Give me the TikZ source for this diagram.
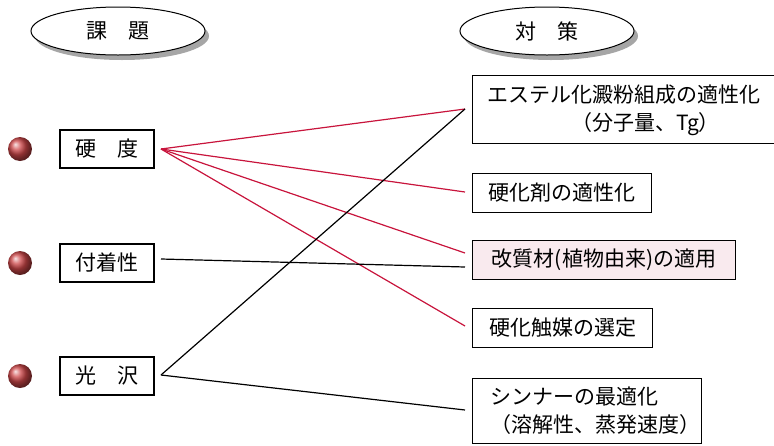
\documentclass[tikz,border=0pt]{standalone}
\usepackage{fontspec}
\setmainfont{Noto Sans CJK JP}
\usetikzlibrary{shapes.geometric,shadows,calc}
\definecolor{linkred}{RGB}{200,20,60}
\definecolor{ballred}{RGB}{205,70,72}
\definecolor{pinkfill}{RGB}{249,234,238}
\tikzset{
  x=1pt,y=-1pt,
  every node/.style={font=\fontsize{21}{28}\selectfont, inner sep=0pt},
  headell/.style={ellipse, draw, line width=1pt, fill=white, minimum width=174pt, minimum height=48pt,
    drop shadow={shadow xshift=4pt, shadow yshift=-5pt, fill=black!35, opacity=1}},
  issuebox/.style={draw, line width=1.1pt, minimum width=94pt, minimum height=38pt},
  measbox/.style={draw, line width=1.1pt, anchor=north west},
  ball/.style={circle, minimum size=24pt, shading=ball, ball color=ballred},
  redlink/.style={draw=linkred, line width=1.2pt},
  blacklink/.style={draw=black, line width=1.2pt}
}
\begin{document}
\begin{tikzpicture}
\useasboundingbox (0,0) rectangle (774,445);
\clip (0,0) rectangle (774,445);
% headings
\node[headell] (hk) at (118,31) {課　題};
\node[headell] (ht) at (547,31) {対　策};
% balls
\node[ball] (b1) at (20,149) {};
\node[ball] (b2) at (20,263) {};
\node[ball] (b3) at (20,376) {};
% issue boxes
\node[issuebox] (i1) at (107,149) {硬　度};
\node[issuebox] (i2) at (107,263) {付着性};
\node[issuebox] (i3) at (107,376) {光　沢};
% measure boxes
\node[measbox, minimum width=306pt, minimum height=68pt] (m1) at (472,75) {};
\node[anchor=north west, align=left] (m1t) at (487,85) {エステル化澱粉組成の適性化\\\hspace{4em}（分子量、Tg）};
\node[measbox, minimum width=179pt, minimum height=39pt] (m2) at (472,173) {硬化剤の適性化};
\node[measbox, minimum width=263pt, minimum height=39pt, fill=pinkfill] (m3) at (472,240) {改質材(植物由来)の適用};
\node[measbox, minimum width=180pt, minimum height=39pt] (m4) at (472,308) {硬化触媒の選定};
\node[measbox, minimum width=229pt, minimum height=65pt] (m5) at (472,378) {};
\node[anchor=north west, align=left] (m5t) at (490,387) {シンナーの最適化\\（溶解性、蒸発速度）};
% connector end points
\coordinate (s1) at (161,149);
\coordinate (s2) at (161,259);
\coordinate (s3) at (161,375);
\coordinate (e1) at (465,109);
\coordinate (e2) at (465,192);
\coordinate (e3r) at (465,253);
\coordinate (e3b) at (465,267);
\coordinate (e4) at (465,326);
\coordinate (e5) at (465,410);
% connectors
\draw[redlink] (s1) -- (e1);
\draw[redlink] (s1) -- (e2);
\draw[redlink] (s1) -- (e3r);
\draw[redlink] (s1) -- (e4);
\draw[blacklink] (s2) -- (e3b);
\draw[blacklink] (s3) -- (e1);
\draw[blacklink] (s3) -- (e5);
\end{tikzpicture}
\end{document}
